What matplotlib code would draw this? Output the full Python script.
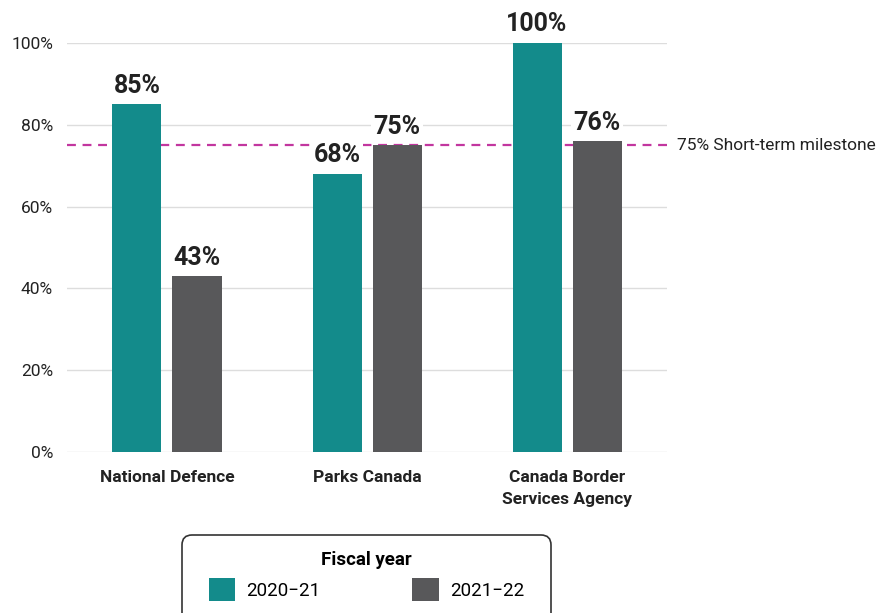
import numpy as np
import matplotlib.pyplot as plt
from matplotlib.patches import FancyBboxPatch

plt.rcParams['font.family'] = ['Roboto', 'DejaVu Sans']

categories = ['National Defence', 'Parks Canada', 'Canada Border\nServices Agency']
years = ['2020\u221221', '2021\u221222']
values_2020 = [85, 68, 100]
values_2021 = [43, 75, 76]
milestone = 75

teal = '#138b8b'
grey = '#58585a'
magenta = '#c2369f'
ink = '#222222'

fig = plt.figure(figsize=(8.85, 6.13), dpi=100)
ax = fig.add_axes([0.0757, 0.2626, 0.678, 0.6673])

x = np.arange(len(categories))
w = 0.245
off = 0.15
b1 = ax.bar(x - off, values_2020, w, color=teal, label=years[0], zorder=3)
b2 = ax.bar(x + off, values_2021, w, color=grey, label=years[1], zorder=3)

# milestone line sits behind the bars
ax.axhline(milestone, color=magenta, linestyle=(0, (4, 3)), linewidth=1.6, zorder=2)
ax.text(1.017, milestone, '{}% Short-term milestone'.format(milestone),
        transform=ax.get_yaxis_transform(), ha='left', va='center',
        fontsize=12.5, color=ink)

for bars in (b1, b2):
    for rect in bars:
        h = rect.get_height()
        ax.text(rect.get_x() + rect.get_width() / 2, h + 1.6, '{}%'.format(int(h)),
                ha='center', va='bottom', fontsize=18, fontweight='bold',
                color=ink, clip_on=False, zorder=5,
                bbox=dict(facecolor='white', edgecolor='none', pad=1.5))

ax.set_xlim(-0.5, 2.5)
ax.set_ylim(0, 100)
ax.set_yticks([0, 20, 40, 60, 80, 100])
ax.set_yticklabels(['{}%'.format(v) for v in [0, 20, 40, 60, 80, 100]])
ax.set_xticks(x)
ax.set_xticklabels(categories, fontweight='bold', fontsize=12.5, color=ink,
                   linespacing=1.55)
ax.tick_params(axis='y', length=0, pad=10, labelsize=12.5, labelcolor=ink)
ax.tick_params(axis='x', length=0, pad=13)
ax.grid(axis='y', color='#dddddd', linewidth=1, zorder=0)
for s in ax.spines.values():
    s.set_visible(False)

leg = fig.legend(handles=[b1, b2], loc='upper center', bbox_to_anchor=(0.414, 0.1272),
                 ncol=2, title='Fiscal year', fontsize=13.5, frameon=False,
                 handlelength=1.4, handleheight=1.45, columnspacing=4.9,
                 borderpad=0.85, handletextpad=0.6, borderaxespad=0)
leg.get_title().set_fontweight('bold')
leg.get_title().set_fontsize(13.5)

# rounded box around the legend (runs off the bottom edge like the original)
box = FancyBboxPatch((1.82, -0.4), 3.69, 1.18,
                     boxstyle='round,pad=0,rounding_size=0.1',
                     transform=fig.dpi_scale_trans, facecolor='none',
                     edgecolor='#333333', linewidth=1.2)
fig.patches.append(box)

fig.savefig('out.png', dpi=100)
